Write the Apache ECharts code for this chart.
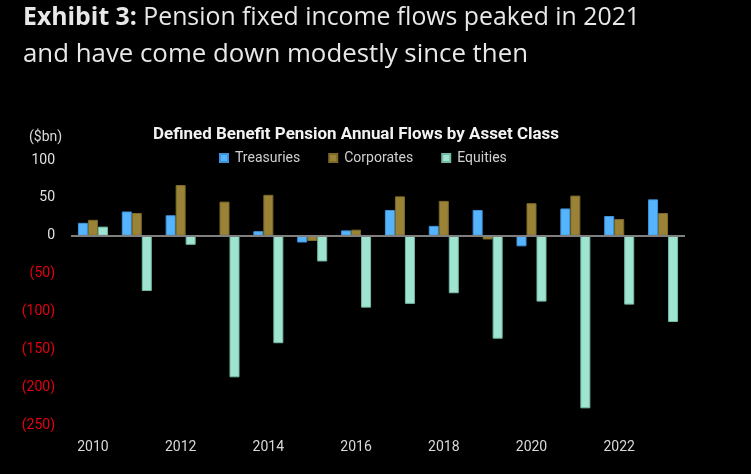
<!DOCTYPE html>
<html>
<head>
<meta charset="utf-8">
<script src="https://cdn.jsdelivr.net/npm/echarts@6/dist/echarts.min.js"></script>
<style>
html,body{margin:0;padding:0;background:#000;}
#chart{width:751px;height:474px;}
</style>
</head>
<body>
<div id="chart"></div>
<script>
const years = ['2010','2011','2012','2013','2014','2015','2016','2017','2018','2019','2020','2021','2022','2023'];
const seriesNames = ['Treasuries','Corporates','Equities'];
const treasuries = [17, 32, 27, 0, 6, -9, 7, 34, 13, 34, -14, 36, 26, 48];
const corporates = [21, 30, 67, 45, 54, -7, 8, 52, 46, -5, 43, 53, 22, 30];
const equities = [12, -73, -12, -187, -142, -34, -95, -90, -76, -136, -87, -228, -91, -114];
const yMin = -250, yMax = 100, yStep = 50;

const titleBold = 'Exhibit 3:';
const titleLine1 = ' Pension fixed income flows peaked in 2021';
const titleLine2 = 'and have come down modestly since then';
const chartTitle = 'Defined Benefit Pension Annual Flows by Asset Class';
const unitLabel = '($bn)';

function tw(txt, font){
  const c = document.createElement('canvas').getContext('2d');
  c.font = font;
  return c.measureText(txt).width;
}
const tFont = '25px "Open Sans"';
const tFontB = 'bold 25px "Open Sans"';
const sTitle1 = 617 / (tw(titleBold, tFontB) + tw(titleLine1, tFont));
const sTitle2 = 505 / tw(titleLine2, tFont);
const ctFont = 'bold 17px Roboto';
const sCt = 406 / tw(chartTitle, ctFont);

const chart = echarts.init(document.getElementById('chart'));
const barCommon = {type:'bar', barWidth:10, barGap:'0%'};
chart.setOption({
  animation:false,
  backgroundColor:'#000',
  graphic:[
    {type:'text', x:23, y:18, scaleX:sTitle1, scaleY:1,
     style:{text:'{b|'+titleBold+'}'+titleLine1, fill:'#e8e8e8', font:tFont, verticalAlign:'middle', align:'left',
       rich:{b:{font:tFontB, fill:'#e8e8e8'}}}},
    {type:'text', x:23, y:55, scaleX:sTitle2, scaleY:1,
     style:{text:titleLine2, fill:'#e8e8e8', font:tFont, verticalAlign:'middle', align:'left'}},
    {type:'text', x:153, y:134.5, scaleX:sCt, scaleY:1,
     style:{text:chartTitle, fill:'#f2f2f2', font:ctFont, verticalAlign:'middle', align:'left'}},
    {type:'text', x:29, y:137,
     style:{text:unitLabel, fill:'#d9d9d9', font:'14px Roboto', verticalAlign:'middle', align:'left'}}
  ],
  legend:{
    data:seriesNames, left:219, top:151, padding:0, itemWidth:8, itemHeight:8, itemGap:28,
    icon:'rect',
    textStyle:{color:'#d0d0d0', fontFamily:'Roboto', fontSize:14, padding:[0,0,0,2]}
  },
  grid:{left:71, right:66, top:160, bottom:49},
  xAxis:{
    type:'category', data:years,
    axisLine:{show:false, onZero:false}, axisTick:{show:false},
    axisLabel:{interval:1, color:'#d9d9d9', fontFamily:'Roboto', fontSize:14, margin:15},
    splitLine:{show:false}
  },
  yAxis:{
    type:'value', min:yMin, max:yMax, interval:yStep,
    axisLine:{show:false}, axisTick:{show:false}, splitLine:{show:false},
    axisLabel:{margin:16, fontFamily:'Roboto', fontSize:14,
      formatter:function(v){ return v<0 ? '{n|('+(-v)+')}' : '{p|'+v+'}'; },
      rich:{n:{color:'#e3000f', fontFamily:'Roboto', fontSize:14}, p:{color:'#e0e0e0', fontFamily:'Roboto', fontSize:14}}}
  },
  series:[
    Object.assign({}, barCommon, {name:seriesNames[0], data:treasuries,
      itemStyle:{color:'#56b4fc', borderColor:'#3f93dc', borderWidth:1},
      markLine:{silent:true, symbol:'none', label:{show:false}, data:[{yAxis:0}],
        lineStyle:{color:'#7f7f7f', width:2, type:'solid'}}}),
    Object.assign({}, barCommon, {name:seriesNames[1], data:corporates,
      itemStyle:{color:'#9a8337', borderColor:'#7d6a2a', borderWidth:1}}),
    Object.assign({}, barCommon, {name:seriesNames[2], data:equities,
      itemStyle:{color:'#9fe4d1', borderColor:'#76b9a7', borderWidth:1}})
  ]
});
</script>
</body>
</html>
